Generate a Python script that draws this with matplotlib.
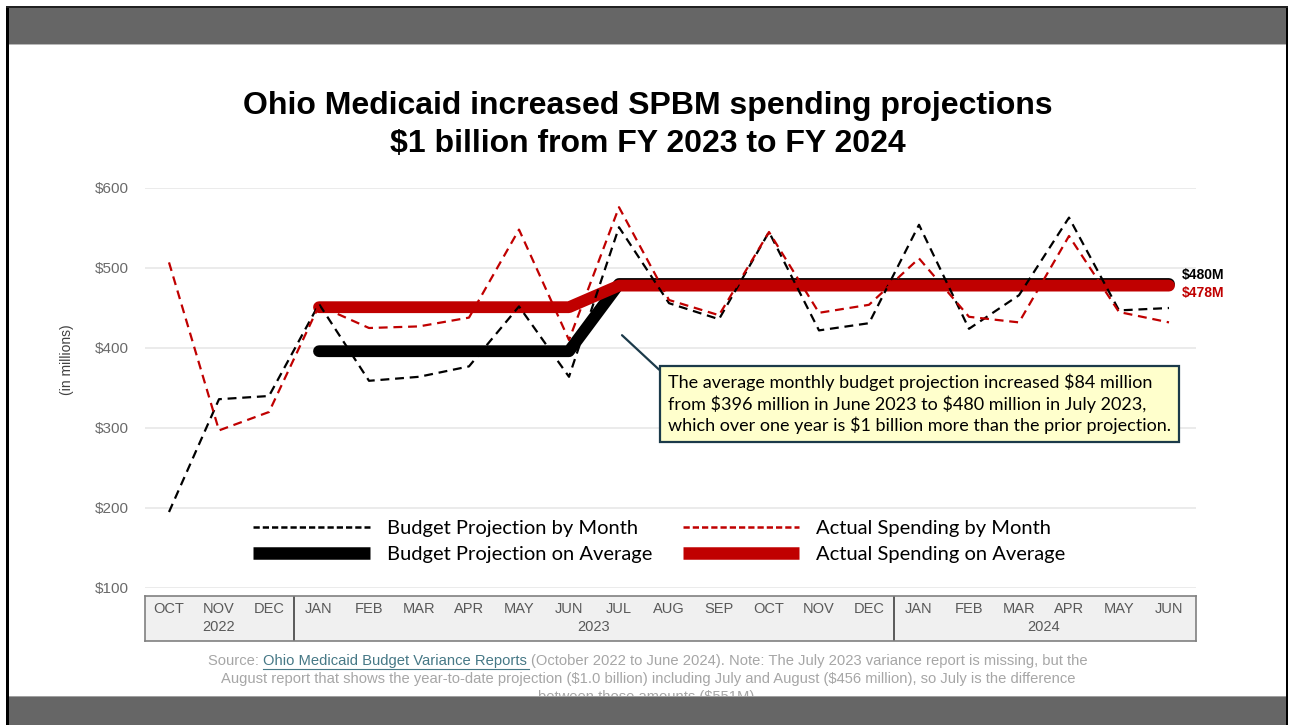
import matplotlib
matplotlib.use("Agg")
import matplotlib.pyplot as plt
from matplotlib.patches import Rectangle
from matplotlib.lines import Line2D

# данные (млн $)
months = ['OCT', 'NOV', 'DEC', 'JAN', 'FEB', 'MAR', 'APR', 'MAY', 'JUN', 'JUL', 'AUG',
          'SEP', 'OCT', 'NOV', 'DEC', 'JAN', 'FEB', 'MAR', 'APR', 'MAY', 'JUN']
years = ['2022', '2023', '2024']
year_spans = [(0, 2), (3, 14), (15, 20)]

budget_month = [195, 336, 340, 455, 359, 364, 377, 452, 364, 551, 456, 436, 545, 422,
                431, 554, 424, 466, 563, 447, 450]
actual_month = [507, 297, 320, 453, 425, 427, 438, 548, 410, 576, 460, 441, 545, 444,
                454, 512, 439, 432, 540, 445, 432]

avg_start = 3  # JAN 2023
budget_avg = [396, 396, 396, 396, 396, 396, 480, 480, 480, 480, 480, 480,
              480, 480, 480, 480, 480, 480]
actual_avg = [451, 451, 451, 451, 451, 451, 478, 478, 478, 478, 478, 478,
              478, 478, 478, 478, 478, 478]

yticks = [100, 200, 300, 400, 500, 600]
ytick_labels = ['$100', '$200', '$300', '$400', '$500', '$600']

W, H = 1289, 725
RED = '#C00000'
GRAY_TXT = '#595959'
DASH = (0, (4, 2.6))

fig = plt.figure(figsize=(W / 100, H / 100), dpi=100)
fig.patch.set_facecolor('white')


def fx(px):
    return px / W


def fy(py):
    return 1 - py / H


# основная область графика
ax = fig.add_axes([fx(145), fy(588), fx(1196 - 145), 400 / H])
x = list(range(len(months)))
x_avg = x[avg_start:]

ax.plot(x, budget_month, color='black', lw=1.6, ls=DASH, zorder=4)
ax.plot(x, actual_month, color=RED, lw=1.6, ls=DASH, zorder=4)
ax.plot(x_avg, budget_avg, color='black', lw=8.5, solid_capstyle='round',
        solid_joinstyle='round', zorder=3)
ax.plot(x_avg, actual_avg, color=RED, lw=8.5, solid_capstyle='round',
        solid_joinstyle='round', zorder=3)

ax.set_xlim(-0.48, 20.54)
ax.set_ylim(100, 600)
ax.set_yticks(yticks)
ax.set_yticklabels(ytick_labels)
ax.set_xticks([])
ax.tick_params(axis='y', length=0, pad=11.5, labelsize=11, labelcolor='#6A6A6A')
for lab in ax.get_yticklabels():
    lab.set_family(['Liberation Sans', 'DejaVu Sans'])
ax.grid(axis='y', color='#E8E8E8', lw=1.2)
ax.set_axisbelow(True)
for s in ax.spines.values():
    s.set_visible(False)
ax.patch.set_alpha(0)

# подписи последних значений
ax.annotate('$' + str(budget_avg[-1]) + 'M', xy=(x_avg[-1], budget_avg[-1]),
            xytext=(9, 6.5), textcoords='offset points', va='center', ha='left',
            fontsize=10, fontweight='bold', color='black', family='Liberation Sans',
            parse_math=False)
ax.annotate('$' + str(actual_avg[-1]) + 'M', xy=(x_avg[-1], actual_avg[-1]),
            xytext=(9, -5), textcoords='offset points', va='center', ha='left',
            fontsize=10, fontweight='bold', color=RED, family='Liberation Sans',
            parse_math=False)

# выноска
note = ('The average monthly budget projection increased $84 million\n'
        'from $396 million in June 2023 to $480 million in July 2023,\n'
        'which over one year is $1 billion more than the prior projection.')
ax.annotate(note, xy=(9.06, 416), xycoords='data',
            xytext=(fx(668), fy(404)), textcoords='figure fraction',
            ha='left', va='center', fontsize=13, family='Lato', linespacing=1.28,
            color='black', parse_math=False,
            bbox=dict(boxstyle='square,pad=0.45', fc='#FFFFCC', ec='#1B3A4A', lw=1.6),
            arrowprops=dict(arrowstyle='-', color='#1B3A4A', lw=1.6,
                            relpos=(0, 0.93), shrinkA=0, shrinkB=0),
            zorder=6)

# легенда (прямоугольные маркеры как в оригинале)
h_bm = Line2D([], [], color='black', lw=1.8, ls=(0, (2.5, 1.2)))
h_ba = Line2D([], [], color='black', lw=9, solid_capstyle='butt')
h_am = Line2D([], [], color=RED, lw=1.8, ls=(0, (2.5, 1.2)))
h_aa = Line2D([], [], color=RED, lw=9, solid_capstyle='butt')
leg = ax.legend([h_bm, h_ba, h_am, h_aa],
                ['Budget Projection by Month', 'Budget Projection on Average',
                 'Actual Spending by Month', 'Actual Spending on Average'],
                ncol=2, frameon=False, loc='upper left',
                bbox_to_anchor=(fx(253), fy(520)), bbox_transform=fig.transFigure,
                borderpad=0, borderaxespad=0, handlelength=5.8, handletextpad=0.85,
                columnspacing=1.5, labelspacing=0.42,
                prop={'family': 'Lato', 'size': 14.5})

# таблица с месяцами под осью
tx = fig.add_axes([fx(145), fy(641), fx(1196 - 145), 45 / H])
tx.set_facecolor('#F0F0F0')
tx.set_xlim(-0.48, 20.54)
tx.set_ylim(0, 1)
tx.set_xticks([])
tx.set_yticks([])
for s in tx.spines.values():
    s.set_color('#808080')
    s.set_linewidth(1.2)
for i, m in enumerate(months):
    tx.text(i, 0.72, m, ha='center', va='center', fontsize=10.5, color=GRAY_TXT,
            family='Liberation Sans')
for yr, (a, b) in zip(years, year_spans):
    tx.text((a + b) / 2, 0.31, yr, ha='center', va='center', fontsize=10.5,
            color=GRAY_TXT, family='Liberation Sans')
for a, b in year_spans[1:]:
    tx.axvline(a - 0.5, color='#404040', lw=1.2)

# заголовок и подпись оси
fig.text(fx(648), fy(125), 'Ohio Medicaid increased SPBM spending projections\n'
         '$1 billion from FY 2023 to FY 2024', ha='center', va='center',
         fontsize=23, fontweight='bold', family='Liberation Sans', linespacing=1.38,
         parse_math=False)
fig.text(fx(67), fy(360), '(in millions)', rotation=90, ha='center', va='center',
         fontsize=10, color='#404040', family='Liberation Sans')

# источник
src_font = dict(fontsize=10.6, family='Liberation Sans', parse_math=False)
fig.canvas.draw()
rend = fig.canvas.get_renderer()
parts = [('Source: ', '#A6A6A6'), ('Ohio Medicaid Budget Variance Reports ', '#467886'),
         ('(October 2022 to June 2024). Note: The July 2023 variance report is missing, '
          'but the', '#A6A6A6')]
texts = [fig.text(0, fy(661), p, color=c, va='center', ha='left', **src_font)
         for p, c in parts]
widths = [t.get_window_extent(rend).width for t in texts]
x0 = 648 - sum(widths) / 2
for t, w in zip(texts, widths):
    t.set_x(fx(x0))
    if t.get_color() == '#467886':
        fig.add_artist(Line2D([fx(x0), fx(x0 + w - 2)], [fy(669), fy(669)],
                              color='#467886', lw=0.8))
    x0 += w
fig.text(fx(648), fy(679), 'August report that shows the year-to-date projection ($1.0 billion) '
         'including July and August ($456 million), so July is the difference',
         color='#A6A6A6', ha='center', va='center', **src_font)
fig.text(fx(648), fy(697), 'between those amounts ($551M).',
         color='#A6A6A6', ha='center', va='center', **src_font)

# рамка слайда
fig.add_artist(Rectangle((fx(8), fy(44)), fx(1279), 36 / H, transform=fig.transFigure,
                         fc='#666666', ec='none', zorder=10))
fig.add_artist(Rectangle((fx(8), fy(45)), fx(1279), 1.5 / H, transform=fig.transFigure,
                         fc='#B8B8B8', ec='none', zorder=10))
fig.add_artist(Rectangle((fx(8), 0), fx(1279), 28 / H, transform=fig.transFigure,
                         fc='#666666', ec='none', zorder=10))
fig.add_artist(Rectangle((fx(8), fy(697)), fx(1279), 1.5 / H, transform=fig.transFigure,
                         fc='#A0A0A0', ec='none', zorder=10))
fig.add_artist(Rectangle((fx(6), 0), fx(2.5), fy(6), transform=fig.transFigure,
                         fc='black', ec='none', zorder=11))
fig.add_artist(Rectangle((fx(1286), 0), fx(2), fy(6), transform=fig.transFigure,
                         fc='black', ec='none', zorder=11))
fig.add_artist(Rectangle((fx(6), fy(8)), fx(1282), 2 / H, transform=fig.transFigure,
                         fc='#222222', ec='none', zorder=11))

fig.savefig('out.png', dpi=100)
